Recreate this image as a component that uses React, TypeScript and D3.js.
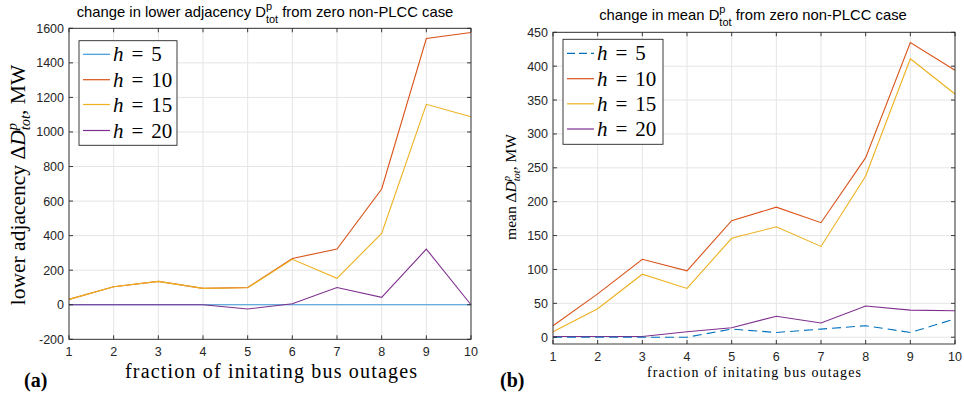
import React from "react";
import * as d3 from "d3";

const xs = [1, 2, 3, 4, 5, 6, 7, 8, 9, 10];
const seriesLabels = ["5", "10", "15", "20"];
const colorsA = ["#3d9ad8", "#D95319", "#EDB120", "#7E2F8E"];
const colorsB = ["#0072BD", "#D95319", "#EDB120", "#7E2F8E"];

// panel (a): change in lower adjacency D_tot^p
const lowH5 = [0, 0, 0, 0, 0, 0, 0, 0, 0, 0];
const lowH10 = [31, 104, 135, 95, 100, 268, 322, 670, 1541, 1576];
const lowH15 = [31, 104, 135, 95, 98, 263, 153, 413, 1160, 1088];
const lowH20 = [0, 0, 0, 0, -25, 6, 100, 43, 322, 0];
const lowTicks = [-200, 0, 200, 400, 600, 800, 1000, 1200, 1400, 1600];

// panel (b): change in mean D_tot^p
const meanH5 = [0, 0, 0, 0, 12, 7, 12, 17, 7, 27];
const meanH10 = [17, 64, 115, 98, 172, 192, 169, 265, 435, 394];
const meanH15 = [8, 42, 93, 72, 146, 163, 134, 238, 411, 359];
const meanH20 = [1, 1, 1, 8, 14, 31, 21, 46, 40, 39];
const meanTicks = [0, 50, 100, 150, 200, 250, 300, 350, 400, 450];

const SANS = "'Liberation Sans', Arial, sans-serif";
const SERIF = "'Liberation Serif', 'DejaVu Serif', serif";
const AX = "#262626";

type PanelProps = {
  x0: number; x1: number; y0: number; y1: number;
  yDomain: [number, number];
  yTicks: number[];
  series: number[][];
  colors: string[];
  dashedFirst: boolean;
  drawOrder: number[];
  legend: { x: number; y: number; w: number; h: number; rowY: number[] };
};

function Panel(p: PanelProps) {
  const xScale = d3.scaleLinear().domain([1, 10]).range([p.x0, p.x1]);
  const yScale = d3.scaleLinear().domain(p.yDomain).range([p.y1, p.y0]);
  const line = d3.line<number>().x((_, i) => xScale(xs[i])).y((d) => yScale(d));
  const tk = 4;
  return (
    <g>
      {xs.map((v) => (
        <line key={"gx" + v} x1={xScale(v)} x2={xScale(v)} y1={p.y0} y2={p.y1} stroke="#e5e5e5" strokeWidth={1} />
      ))}
      {p.yTicks.map((v) => (
        <line key={"gy" + v} x1={p.x0} x2={p.x1} y1={yScale(v)} y2={yScale(v)} stroke="#e5e5e5" strokeWidth={1} />
      ))}
      {p.drawOrder.map((i) => (
        <path
          key={"s" + i}
          d={line(p.series[i]) || ""}
          fill="none"
          stroke={p.colors[i]}
          strokeWidth={1.1}
          strokeDasharray={i === 0 && p.dashedFirst ? "9,5" : undefined}
        />
      ))}
      <rect x={p.x0} y={p.y0} width={p.x1 - p.x0} height={p.y1 - p.y0} fill="none" stroke={AX} strokeWidth={0.9} />
      {xs.map((v) => (
        <g key={"tx" + v}>
          <line x1={xScale(v)} x2={xScale(v)} y1={p.y1} y2={p.y1 - tk} stroke={AX} strokeWidth={0.9} />
          <line x1={xScale(v)} x2={xScale(v)} y1={p.y0} y2={p.y0 + tk} stroke={AX} strokeWidth={0.9} />
          <text x={xScale(v)} y={p.y1 + 17} textAnchor="middle" fontFamily={SANS} fontSize={12.5} fill={AX}>
            {v}
          </text>
        </g>
      ))}
      {p.yTicks.map((v) => (
        <g key={"ty" + v}>
          <line x1={p.x0} x2={p.x0 + tk} y1={yScale(v)} y2={yScale(v)} stroke={AX} strokeWidth={0.9} />
          <line x1={p.x1} x2={p.x1 - tk} y1={yScale(v)} y2={yScale(v)} stroke={AX} strokeWidth={0.9} />
          <text x={p.x0 - 5} y={yScale(v) + 4.5} textAnchor="end" fontFamily={SANS} fontSize={12.5} fill={AX}>
            {v}
          </text>
        </g>
      ))}
      <rect x={p.legend.x} y={p.legend.y} width={p.legend.w} height={p.legend.h} fill="white" stroke={AX} strokeWidth={0.9} />
      {seriesLabels.map((lab, i) => (
        <g key={"lg" + i}>
          <line
            x1={p.legend.x + 4}
            x2={p.legend.x + 31}
            y1={p.legend.rowY[i]}
            y2={p.legend.rowY[i]}
            stroke={p.colors[i]}
            strokeWidth={1.2}
            strokeDasharray={i === 0 && p.dashedFirst ? "8,4" : undefined}
          />
          <text x={p.legend.x + 34} y={p.legend.rowY[i] + 7} fontFamily={SERIF} fontSize={21} fill="#000">
            <tspan fontStyle="italic">h</tspan>
            <tspan dx={8}>=</tspan>
            <tspan dx={8}>{lab}</tspan>
          </text>
        </g>
      ))}
    </g>
  );
}

export default function App() {
  return (
    <svg width={964} height={396} style={{ position: "absolute", left: 0, top: 0, background: "white" }}>
      <rect x={0} y={0} width={964} height={396} fill="white" />
      <text x={265} y={17} textAnchor="middle" fontFamily={SANS} fontSize={14.8} fill="#000">
        change in lower adjacency D
        <tspan fontSize={11} dy={-7}>p</tspan>
        <tspan fontSize={11} dx={-6.1} dy={12.5}>tot</tspan>
        <tspan dy={-5.5}> from zero non-PLCC case</tspan>
      </text>
      <text x={753} y={20} textAnchor="middle" fontFamily={SANS} fontSize={14.8} fill="#000">
        change in mean D
        <tspan fontSize={11} dy={-7}>p</tspan>
        <tspan fontSize={11} dx={-6.1} dy={12.5}>tot</tspan>
        <tspan dy={-5.5}> from zero non-PLCC case</tspan>
      </text>

      <Panel
        x0={69}
        x1={471}
        y0={28.3}
        y1={339.3}
        yDomain={[-200, 1600]}
        yTicks={lowTicks}
        series={[lowH5, lowH10, lowH15, lowH20]}
        colors={colorsA}
        dashedFirst={false}
        drawOrder={[1, 2, 0, 3]}
        legend={{ x: 79, y: 40.7, w: 98, h: 104.6, rowY: [54.3, 79.7, 104.5, 130.5] }}
      />
      <Panel
        x0={553}
        x1={955}
        y0={32.3}
        y1={344}
        yDomain={[-10, 450]}
        yTicks={meanTicks}
        series={[meanH5, meanH10, meanH15, meanH20]}
        colors={colorsB}
        dashedFirst={true}
        drawOrder={[3, 1, 2, 0]}
        legend={{ x: 563, y: 39.3, w: 100, h: 105, rowY: [53.3, 78.7, 103.8, 129] }}
      />

      <text transform="translate(25,185) rotate(-90)" textAnchor="middle" fontFamily={SERIF} fontSize={21.5} fill="#000">
        lower adjacency Δ
        <tspan fontStyle="italic">D</tspan>
        <tspan fontStyle="italic" fontSize={14.5} dy={-8.5}>p</tspan>
        <tspan fontStyle="italic" fontSize={14.5} dx={-7.3} dy={13.5}>tot</tspan>
        <tspan dy={-5}>, MW</tspan>
      </text>
      <text transform="translate(516,187) rotate(-90)" textAnchor="middle" fontFamily={SERIF} fontSize={15.5} fill="#000">
        mean Δ
        <tspan fontStyle="italic">D</tspan>
        <tspan fontStyle="italic" fontSize={10.5} dy={-6}>p</tspan>
        <tspan fontStyle="italic" fontSize={10.5} dx={-5.3} dy={9.5}>tot</tspan>
        <tspan dy={-3.5}>, MW</tspan>
      </text>

      <text x={271} y={378} textAnchor="middle" fontFamily={SERIF} fontSize={20} fill="#000" textLength={292} lengthAdjust="spacing">
        fraction of initating bus outages
      </text>
      <text x={754} y={377} textAnchor="middle" fontFamily={SERIF} fontSize={14} fill="#000" textLength={214} lengthAdjust="spacing">
        fraction of initating bus outages
      </text>

      <text x={24} y={387} fontFamily={SERIF} fontWeight="bold" fontSize={20} fill="#000">(a)</text>
      <text x={500} y={387} fontFamily={SERIF} fontWeight="bold" fontSize={20} fill="#000">(b)</text>
    </svg>
  );
}
